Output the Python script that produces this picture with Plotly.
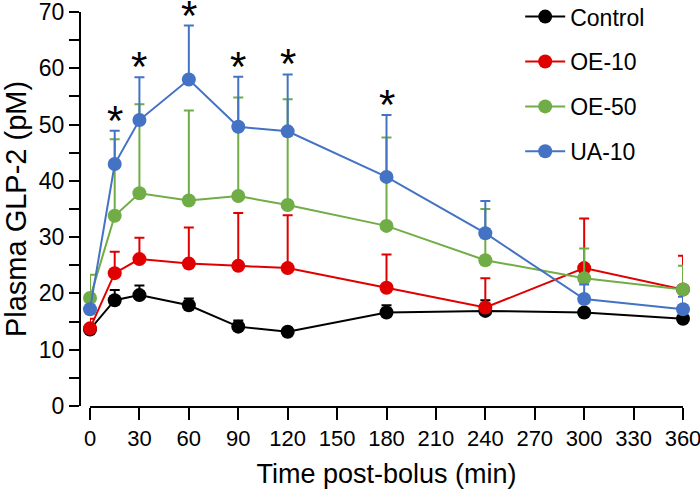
import plotly.graph_objects as go

# ---- data ----
time_min = [0, 15, 30, 60, 90, 120, 180, 240, 300, 360]

control_mean = [13.6, 18.8, 19.7, 17.9, 14.1, 13.2, 16.6, 16.9, 16.6, 15.5]
control_err = [0.6, 1.8, 1.7, 1.2, 1.1, 0.5, 1.3, 1.9, 0.5, 0.5]

oe10_mean = [13.8, 23.6, 26.1, 25.3, 24.9, 24.5, 21.0, 17.5, 24.5, 20.7]
oe10_err = [1.7, 3.8, 3.8, 6.4, 9.4, 9.4, 5.9, 5.2, 8.8, 6.0]

oe50_mean = [19.2, 33.8, 37.8, 36.5, 37.3, 35.7, 32.0, 25.9, 22.7, 20.7]
oe50_err = [4.1, 13.6, 15.8, 16.0, 17.5, 18.8, 15.7, 9.1, 5.3, 4.2]

ua10_mean = [17.2, 43.0, 50.8, 58.0, 49.6, 48.8, 40.7, 30.7, 19.0, 17.2]
ua10_err = [0.5, 5.9, 7.6, 9.6, 8.9, 10.1, 11.0, 5.7, 2.6, 2.2]

series_names = ["Control", "OE-10", "OE-50", "UA-10"]
series_colors = ["#000000", "#E00000", "#70AD47", "#4472C4"]

# significance markers (UA-10 vs control)
sig_times = [15, 30, 60, 90, 120, 180]

x_ticks = list(range(0, 361, 30))
y_ticks = list(range(0, 71, 10))

FONT = "Liberation Sans, Arial, sans-serif"

fig = go.Figure()
for name, color, mean, err in zip(
    series_names,
    series_colors,
    [control_mean, oe10_mean, oe50_mean, ua10_mean],
    [control_err, oe10_err, oe50_err, ua10_err],
):
    fig.add_trace(
        go.Scatter(
            x=time_min,
            y=mean,
            name=name,
            legendgroup=name,
            mode="lines+markers",
            line=dict(color=color, width=2),
            marker=dict(color=color, size=14),
            error_y=dict(
                type="data",
                symmetric=False,
                array=err,
                arrayminus=[0] * len(err),
                color=color,
                thickness=2,
                width=5,
            ),
            cliponaxis=False,
        )
    )

ua_top = {t: m + e for t, m, e in zip(time_min, ua10_mean, ua10_err)}
for t in sig_times:
    fig.add_annotation(
        x=t,
        y=ua_top[t],
        text="*",
        showarrow=False,
        yanchor="bottom",
        yshift=-15,
        font=dict(family="Liberation Sans, Arial", size=42, color="#000"),
    )

fig.update_layout(
    width=700,
    height=494,
    margin=dict(l=80, r=17, t=0, b=88, autoexpand=False),
    paper_bgcolor="white",
    plot_bgcolor="white",
    font=dict(family=FONT, color="#000", size=22),
    showlegend=True,
    legend=dict(
        x=0.73,
        y=1.012,
        xanchor="left",
        yanchor="top",
        font=dict(family=FONT, size=23, color="#000"),
        tracegroupgap=12,
        itemwidth=40,
        bgcolor="rgba(0,0,0,0)",
    ),
    xaxis=dict(
        domain=[10 / 603, 1],
        range=[0, 360],
        automargin=False,
        tickmode="array",
        tickvals=x_ticks,
        ticktext=[str(v) for v in x_ticks],
        ticks="outside",
        ticklen=12,
        tickwidth=2,
        tickcolor="#000",
        ticklabeloverflow="allow",
        showline=True,
        linecolor="#000",
        linewidth=2,
        showgrid=False,
        zeroline=False,
        tickfont=dict(family=FONT, size=22),
        title=dict(text="Time post-bolus (min)", font=dict(family=FONT, size=27), standoff=14),
    ),
    yaxis=dict(
        domain=[0, 394 / 406],
        anchor="free",
        position=0,
        automargin=False,
        range=[0, 70],
        tickmode="array",
        tickvals=y_ticks,
        ticktext=[str(v) for v in y_ticks],
        ticks="outside",
        ticklen=10,
        tickwidth=2,
        tickcolor="#000",
        ticklabeloverflow="allow",
        minor=dict(dtick=5, ticks="outside", ticklen=10, tickwidth=2, tickcolor="#000", showgrid=False),
        showline=True,
        linecolor="#000",
        linewidth=2,
        showgrid=False,
        zeroline=False,
        tickfont=dict(family=FONT, size=23),
        title=dict(text="Plasma GLP-2 (pM)", font=dict(family=FONT, size=29), standoff=8),
    ),
)

fig.write_html(
    "out.html",
    config={"displayModeBar": False},
    post_script="document.body.style.margin='0';document.body.style.overflow='hidden';",
)
